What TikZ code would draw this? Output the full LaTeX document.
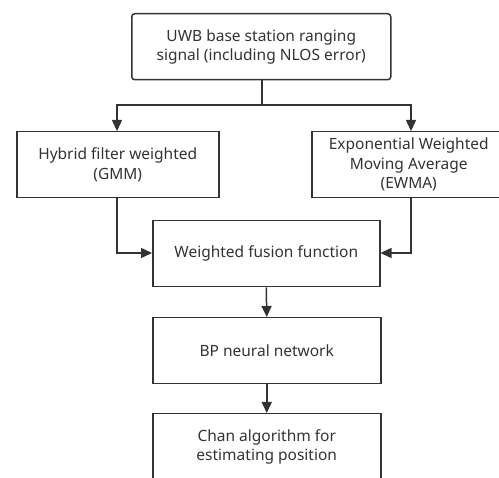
\documentclass[tikz,border=0pt]{standalone}
\usepackage{fontspec}
\setmainfont{Noto Sans}
\usetikzlibrary{arrows.meta}
\definecolor{ink}{HTML}{333333}
\tikzset{
  box/.style={draw=ink, line width=1.5pt, fill=white, text=ink, align=center,
    font=\fontsize{15.5}{19.5}\selectfont, inner sep=0pt, anchor=north west},
  link/.style={draw=ink, line width=1.5pt, -{Triangle[length=11pt,width=10pt]}},
  wire/.style={draw=ink, line width=1.5pt}
}
\begin{document}
\begin{tikzpicture}[x=1pt,y=-1pt]
\useasboundingbox (0,0) rectangle (499,478);
\clip (0,0) rectangle (499,478);
% source block
\node[box, rounded corners=3pt, minimum width=259pt, minimum height=66pt] (src) at (131,13)
  {UWB base station ranging\\signal (including NLOS error)};
% two filters
\node[box, minimum width=202pt, minimum height=66pt] (gmm) at (16,131)
  {Hybrid filter weighted\\(GMM)};
\node[box, minimum width=194pt, minimum height=66pt] (ewma) at (311,131)
  {Exponential Weighted\\Moving Average\\(EWMA)};
% chain
\node[box, minimum width=227pt, minimum height=66pt] (fus) at (152,220)
  {Weighted fusion function};
\node[box, minimum width=228pt, minimum height=66pt] (bp) at (152,317)
  {BP neural network};
\node[box, minimum width=228pt, minimum height=66pt] (chan) at (152,413)
  {Chan algorithm for\\estimating position};
% branching
\coordinate (j) at (262,105);
\coordinate (jl) at (117,105);
\coordinate (jr) at (411,105);
\draw[wire] (src.south -| j) -- (j);
\draw[link] (j) -- (jl) -- (jl |- gmm.north);
\draw[link] (j) -- (jr) -- (jr |- ewma.north);
% merging into fusion
\coordinate (ml) at (117,253);
\coordinate (mr) at (411,253);
\draw[link] (jl |- gmm.south) -- (ml) -- (ml -| fus.west);
\draw[link] (jr |- ewma.south) -- (mr) -- (mr -| fus.east);
\draw[link] (fus.south) -- (bp.north);
\draw[link] (bp.south) -- (chan.north);
\end{tikzpicture}
\end{document}
